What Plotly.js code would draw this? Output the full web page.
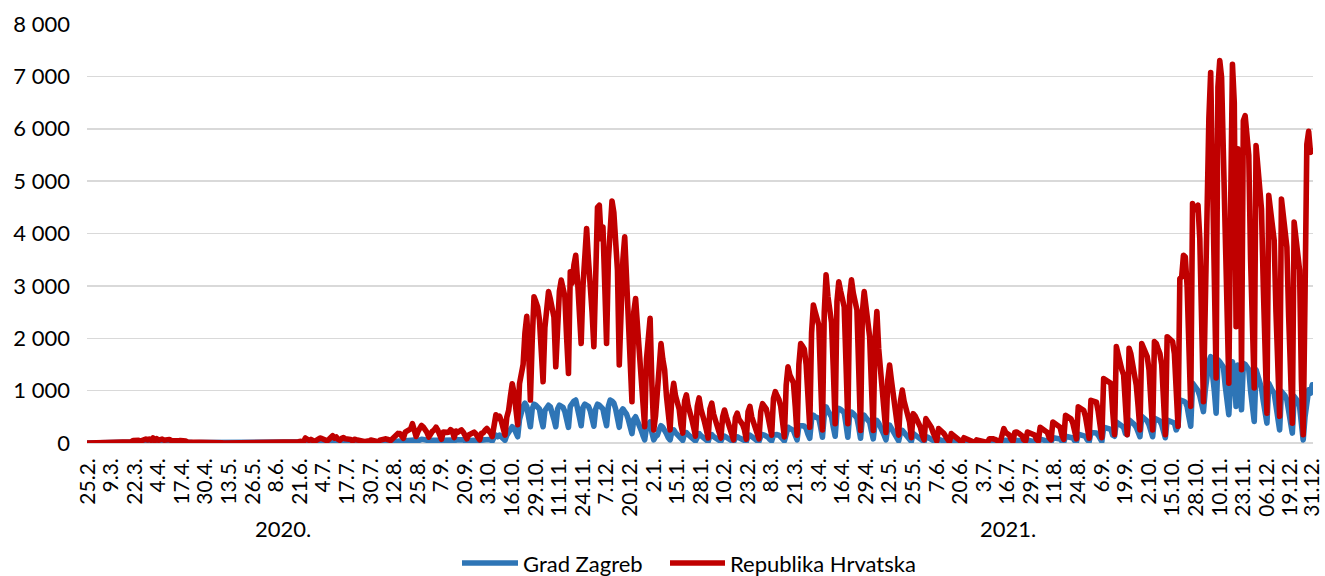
<!DOCTYPE html>
<html><head><meta charset="utf-8">
<script src="https://cdn.plot.ly/plotly-3.0.1.min.js"></script>
<style>
html,body{margin:0;padding:0;background:#fff;}
#chart{width:1325px;height:576px;}
.js-line{stroke-linejoin:round !important;stroke-linecap:round;}
</style></head><body><div id="chart"></div><script>
// Daily new cases, 25.2.2020 - 31.12.2021 (one row = one week, Mon..Sun)
const zagreb = [
0,0,0,0,0,0,
0,0,0,0,0,0,0,
0,0,1,1,3,4,4,
3,6,9,10,8,18,20,
28,20,15,22,35,30,24,
30,22,40,18,30,20,25,
28,20,24,18,25,17,15,
10,8,15,18,18,14,13,
8,7,9,5,10,10,4,
4,8,7,7,4,5,2,
1,3,3,4,2,1,0,
0,1,1,0,1,0,0,
0,0,0,0,0,0,0,
0,0,0,0,0,0,0,
0,0,0,0,0,1,1,
0,1,1,0,0,1,2,
0,1,2,2,3,5,6,
6,5,15,12,10,14,10,
6,12,20,24,22,16,13,
10,18,24,30,22,26,16,
12,20,22,18,16,20,14,
10,16,14,12,10,13,9,
6,8,6,12,12,9,7,
5,12,15,15,18,16,12,
10,18,28,40,40,38,30,
20,40,45,55,55,70,55,
25,45,65,70,65,55,42,
24,40,50,55,65,50,38,
20,50,50,52,52,64,56,
30,65,60,65,72,60,42,
22,45,52,58,60,50,36,
18,55,58,72,80,66,56,
40,110,150,120,150,120,75,
50,150,200,250,310,280,200,
120,450,600,700,760,700,500,
310,650,740,720,700,650,450,
310,620,700,720,690,600,450,
310,650,720,700,680,600,430,
300,700,760,800,820,700,500,
330,680,740,720,700,620,450,
320,650,740,720,700,650,480,
330,700,820,800,760,650,500,
300,600,650,600,550,450,350,
180,450,500,420,350,250,150,
60,300,380,400,200,60,120,
150,250,330,300,250,180,100,
60,220,250,200,170,140,80,
50,180,200,160,140,110,70,
40,150,180,140,120,90,60,
30,140,160,120,100,80,50,
30,110,130,110,90,70,40,
20,100,120,100,90,80,50,
25,130,150,110,90,70,45,
30,130,160,150,140,110,70,
40,150,170,160,150,130,80,
40,220,300,280,250,240,150,
60,330,340,330,320,280,170,
90,450,530,500,480,470,300,
110,550,690,620,560,500,300,
130,600,660,640,600,580,350,
110,560,590,560,520,480,300,
90,480,530,480,420,400,230,
80,380,430,380,320,250,150,
60,300,340,280,230,200,120,
40,200,240,200,160,130,80,
30,180,160,140,120,90,50,
20,120,110,90,80,60,30,
10,70,60,50,45,30,15,
5,40,35,30,25,20,10,
3,25,20,18,15,10,5,
3,15,12,10,12,10,5,
3,20,22,20,18,15,8,
5,40,60,50,45,35,15,
8,50,55,50,45,35,15,
10,55,50,48,45,35,18,
10,75,70,65,60,50,25,
15,100,95,90,85,75,35,
18,130,125,120,115,95,45,
20,170,165,160,155,125,60,
25,200,200,195,190,150,75,
30,300,290,280,280,260,150,
130,400,380,350,330,300,180,
160,440,420,380,350,300,200,
120,510,480,450,420,350,200,
120,475,460,440,420,350,200,
100,440,430,420,410,380,250,
320,820,820,800,780,700,500,
320,1140,1100,1080,1000,900,700,
600,1000,1350,1550,1650,1400,1000,
570,1590,1550,1500,1450,1100,700,
540,1200,1550,1300,700,1490,1200,
635,1520,1500,1450,1400,1000,600,
410,1400,1300,1200,1050,800,500,
380,1140,1050,1000,950,700,400,
250,985,950,900,825,600,350,
190,890,850,800,700,300,60,
500,900,1015,950,1110
];
const hrvatska = [
1,2,0,0,2,1,
0,0,2,1,0,1,1,
1,1,2,4,6,11,10,
8,16,24,25,23,49,48,
71,52,36,51,85,74,57,
77,51,96,46,81,52,68,
74,54,61,50,66,47,41,
29,21,40,48,49,37,36,
20,20,25,14,28,28,12,
10,21,20,20,10,13,6,
4,9,9,11,7,3,1,
1,4,2,0,2,0,0,
0,1,0,0,1,0,0,
0,1,0,0,0,1,1,
0,0,1,0,0,2,2,
0,2,4,1,0,2,5,
3,6,17,13,18,24,31,
30,25,95,67,52,68,46,
29,52,78,94,86,65,54,
41,71,96,140,93,116,72,
53,87,102,80,76,87,65,
38,72,63,54,47,60,43,
25,37,29,56,53,41,33,
23,52,66,68,79,72,55,
48,82,127,180,183,180,149,
92,206,224,267,269,369,273,
125,216,310,335,303,270,202,
113,190,225,250,302,245,178,
72,210,198,203,206,255,225,
104,228,204,229,251,206,150,
79,153,180,195,208,172,124,
59,188,193,243,277,230,196,
123,363,540,470,510,415,245,
150,490,620,890,1131,960,648,
348,1130,1420,1500,2100,2420,1800,
820,1950,2790,2700,2600,2350,1700,
1170,2200,2600,2890,2750,2600,2400,
1455,2400,2900,3110,3000,2800,2000,
1330,3270,3050,3400,3585,3100,2300,
1900,3000,3600,4095,3500,3100,2500,
1840,3700,4500,4540,3900,4125,3000,
1900,3500,4400,4620,4400,3900,3300,
1490,2600,3500,3935,3100,2400,1700,
790,2500,2760,2250,1700,1100,600,
310,1600,2100,2380,1100,250,520,
900,1400,1900,1600,1400,900,500,
250,900,1140,900,750,650,350,
190,800,920,700,600,450,300,
130,700,860,650,550,400,250,
95,650,760,550,450,350,200,
95,500,630,500,400,300,180,
60,480,570,450,400,350,250,
70,600,700,500,400,300,200,
80,600,750,700,650,500,350,
150,850,980,900,830,700,400,
115,1100,1455,1300,1180,1150,700,
150,1500,1900,1850,1790,1500,900,
300,2100,2635,2500,2380,2250,1200,
250,2500,3210,2800,2540,2300,1400,
370,2700,3080,2900,2730,2600,1500,
370,2800,3115,2860,2700,2540,1400,
240,2500,2890,2600,2220,2030,1100,
240,2000,2510,1800,1500,1000,600,
200,1200,1490,1200,945,800,500,
150,800,1010,800,690,560,400,
100,560,520,450,400,300,150,
60,465,420,350,300,200,100,
40,275,250,200,180,120,60,
20,180,150,120,100,80,40,
10,100,80,70,60,40,20,
10,60,50,40,50,40,20,
10,80,90,80,70,60,30,
20,150,275,200,180,150,70,
30,200,210,190,170,140,60,
40,210,200,190,180,150,70,
40,300,280,260,240,200,100,
60,400,380,370,350,300,150,
70,530,500,480,460,380,180,
80,690,660,640,625,500,250,
90,815,800,790,780,600,300,
100,1230,1200,1180,1165,1140,600,
160,1840,1700,1450,1400,1300,700,
160,1810,1700,1500,1300,1100,700,
250,1900,1800,1700,1650,1400,800,
250,1935,1900,1800,1710,1500,900,
160,2030,2000,1950,1935,1700,1000,
320,3140,3170,3585,3550,3000,1800,
700,4570,4450,4500,4540,3900,2400,
790,2600,4700,6200,7075,4600,2800,
1240,6800,7300,6980,5500,3000,1800,
1140,4500,7230,6500,2220,5615,5400,
1400,6155,6250,5700,5490,3500,2000,
1050,5680,5300,4800,4470,3000,1500,
570,4730,4500,4200,3870,2500,1200,
510,4660,4300,4000,3740,2400,1100,
380,4220,3900,3600,3300,1200,160,
2800,5700,5950,5550,5580
];
const tickLabels = ["25.2.","9.3.","22.3.","4.4.","17.4.","30.4.","13.5.","26.5.","8.6.","21.6.",
"4.7.","17.7.","30.7.","12.8.","25.8.","7.9.","20.9.","3.10.","16.10.","29.10.","11.11.","24.11.",
"7.12.","20.12.","2.1.","15.1.","28.1.","10.2.","23.2.","8.3.","21.3.","3.4.","16.4.","29.4.",
"12.5.","25.5.","7.6.","20.6.","3.7.","16.7.","29.7.","11.8.","24.8.","6.9.","19.9.","2.10.",
"15.10.","28.10.","10.11.","23.11.","06.12.","19.12.","31.12."];
const yearLabels = ["2020.", "2021."];
const seriesNames = ["Grad Zagreb", "Republika Hrvatska"];
const seriesColors = ["#2E75B6", "#C00000"];

const days = hrvatska.map((_, i) => i);
const tickvals = tickLabels.map((_, i) => i === tickLabels.length - 1 ? hrvatska.length - 1 : i * 13);
const FONT = "Lato, 'Open Sans', sans-serif";
const LW = 5.6;

// plot area in pixels: left 87, right 1313, top 24, bottom 443
const PL = 87, PW = 1226, PB = 443, PH = 419;
const px = v => (v - PL) / PW;
const py = v => (PB - v) / PH;

const traces = [zagreb, hrvatska].map((vals, k) => ({
  x: days, y: vals, type: "scatter", mode: "lines", name: seriesNames[k],
  line: {color: seriesColors[k], width: LW}, hoverinfo: "y", showlegend: false
}));

// legend drawn as sample lines + labels below the chart
const legendLines = [[462, 518], [670, 725]];
const legendShapes = legendLines.map((s, k) => ({
  type: "line", xref: "paper", yref: "paper", x0: px(s[0]), x1: px(s[1]), y0: py(563), y1: py(563),
  line: {color: seriesColors[k], width: LW}
}));
const legendTexts = legendLines.map((s, k) => ({
  text: seriesNames[k], xref: "paper", yref: "paper", x: px(s[1] + 3), y: py(563),
  xanchor: "left", yanchor: "middle", showarrow: false,
  font: {family: FONT, size: 22, color: "#000"}
}));
const yearTexts = yearLabels.map((t, i) => ({
  text: t, xref: "paper", yref: "paper", x: px([283, 1008][i]), y: py(528),
  xanchor: "center", yanchor: "middle", showarrow: false,
  font: {family: FONT, size: 22, color: "#000"}
}));

const layout = {
  width: 1325, height: 576,
  margin: {l: 87, r: 12, t: 24, b: 133, autoexpand: false},
  paper_bgcolor: "#fff", plot_bgcolor: "#fff",
  separators: ", ",
  font: {family: FONT, color: "#000", size: 21},
  showlegend: false,
  xaxis: {
    range: [-0.4, hrvatska.length - 0.6], tickmode: "array", tickvals: tickvals, ticktext: tickLabels,
    tickangle: -90, tickfont: {family: FONT, size: 21, color: "#000"}, automargin: false,
    showgrid: false, zeroline: false, showline: false, ticks: "", ticklabelstandoff: 10
  },
  yaxis: {
    range: [0, 8000], dtick: 1000, tick0: 0, separatethousands: true, tickformat: ",d",
    tickfont: {family: FONT, size: 22, color: "#000"}, automargin: false,
    showgrid: true, gridcolor: "#D9D9D9", gridwidth: 1.5,
    zeroline: true, zerolinecolor: "#D9D9D9", zerolinewidth: 1.5,
    showline: false, ticks: "", ticklabelstandoff: 16
  },
  shapes: legendShapes,
  annotations: yearTexts.concat(legendTexts)
};

Plotly.newPlot("chart", traces, layout, {displayModeBar: false, staticPlot: true});
</script></body></html>
